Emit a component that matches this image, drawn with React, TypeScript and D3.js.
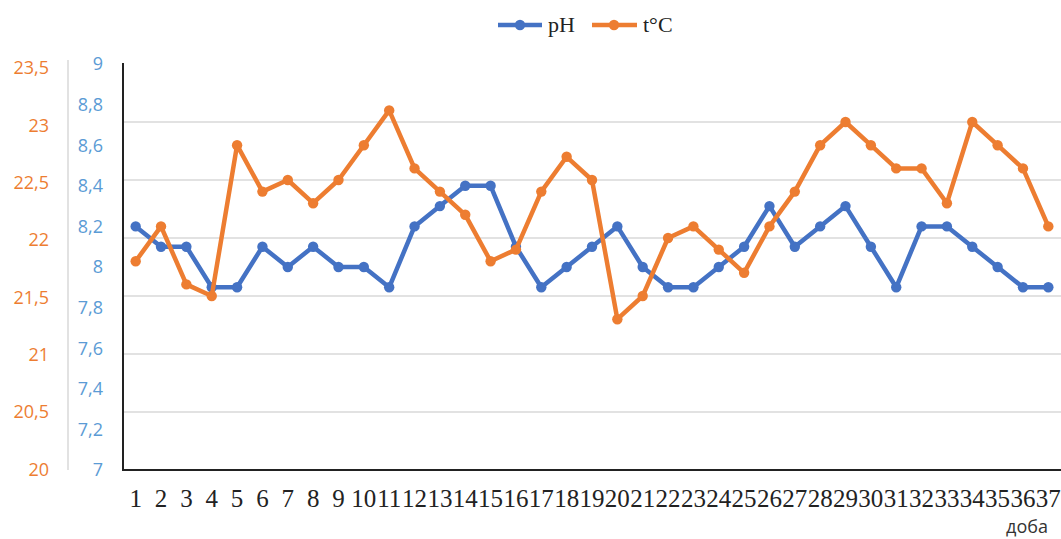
import React from "react";
import * as d3 from "d3";

const days: number[] = Array.from({ length: 37 }, (_, i) => i + 1);
const phValues: number[] = [
  8.2, 8.1, 8.1, 7.9, 7.9, 8.1, 8.0, 8.1, 8.0, 8.0, 7.9, 8.2, 8.3, 8.4, 8.4, 8.1, 7.9, 8.0, 8.1,
  8.2, 8.0, 7.9, 7.9, 8.0, 8.1, 8.3, 8.1, 8.2, 8.3, 8.1, 7.9, 8.2, 8.2, 8.1, 8.0, 7.9, 7.9,
];
const tempValues: number[] = [
  21.8, 22.1, 21.6, 21.5, 22.8, 22.4, 22.5, 22.3, 22.5, 22.8, 23.1, 22.6, 22.4, 22.2, 21.8, 21.9,
  22.4, 22.7, 22.5, 21.3, 21.5, 22.0, 22.1, 21.9, 21.7, 22.1, 22.4, 22.8, 23.0, 22.8, 22.6, 22.6,
  22.3, 23.0, 22.8, 22.6, 22.1,
];
const phTicks: number[] = [7, 7.2, 7.4, 7.6, 7.8, 8, 8.2, 8.4, 8.6, 8.8, 9];
const tempTicks: number[] = [20, 20.5, 21, 21.5, 22, 22.5, 23, 23.5];
const gridTicks: number[] = [20.5, 21, 21.5, 22, 22.5, 23];
const seriesNames = ["pH", "t°C"];
const xTitle = "доба";

const W = 1061;
const H = 539;
const left = 123;
const right = 1061;
const top = 64;
const bottom = 470;

const BLUE = "#4472C4";
const ORANGE = "#ED7D31";
const BLUE_LABEL = "#5B9BD5";

const fmt = (v: number) => String(v).replace(".", ",");

export default function App() {
  const x = d3
    .scaleBand<number>()
    .domain(days)
    .range([left, right])
    .padding(0);
  const cx = (d: number) => (x(d) as number) + x.bandwidth() / 2;
  const yPh = d3.scaleLinear().domain([7, 9]).range([bottom, top]);
  const yT = d3.scaleLinear().domain([20, 23.5]).range([bottom, top]);
  const yTLabel = d3.scaleLinear().domain([20, 23.5]).range([bottom - 0.5, top + 4]);

  const phLine = d3
    .line<number>()
    .x((_, i) => cx(days[i]))
    .y((v) => yPh(v));
  const tLine = d3
    .line<number>()
    .x((_, i) => cx(days[i]))
    .y((v) => yT(v));

  const axisFont = "'Open Sans', 'Liberation Sans', sans-serif";
  const serif = "'Liberation Serif', 'Times New Roman', serif";

  return (
    <svg
      width={W}
      height={H}
      style={{ position: "absolute", left: 0, top: 0, background: "#fff" }}
    >
      <rect x={0} y={0} width={W} height={H} fill="#fff" />
      {gridTicks.map((t) => (
        <line
          key={"g" + t}
          x1={left}
          x2={right}
          y1={yT(t)}
          y2={yT(t)}
          stroke="#d9d9d9"
          strokeWidth={1.5}
        />
      ))}
      <line x1={68} x2={68} y1={top - 4} y2={bottom} stroke="#d9d9d9" strokeWidth={1.5} />
      <line x1={left} x2={left} y1={top - 1} y2={bottom + 1} stroke="#222" strokeWidth={2} />
      <line x1={left - 1} x2={right} y1={bottom} y2={bottom} stroke="#222" strokeWidth={2} />

      {tempTicks.map((t) => (
        <text
          key={"t" + t}
          x={49}
          y={yTLabel(t)}
          dy="0.35em"
          textAnchor="end"
          fill={ORANGE}
          fontFamily={axisFont}
          fontSize={18}
        >
          {fmt(t)}
        </text>
      ))}
      {phTicks.map((t) => (
        <text
          key={"p" + t}
          x={103}
          y={yPh(t)}
          dy="0.35em"
          textAnchor="end"
          fill={BLUE_LABEL}
          fontFamily={axisFont}
          fontSize={18}
        >
          {fmt(t)}
        </text>
      ))}

      {days.map((d) => (
        <text
          key={"x" + d}
          x={cx(d)}
          y={507}
          textAnchor="middle"
          fill="#222"
          fontFamily={serif}
          fontSize={25}
        >
          {d}
        </text>
      ))}
      <text
        x={1048}
        y={533}
        textAnchor="end"
        fill="#333"
        fontFamily={axisFont}
        fontSize={18}
      >
        {xTitle}
      </text>

      <path d={phLine(phValues) || ""} fill="none" stroke={BLUE} strokeWidth={4.5} strokeLinejoin="round" />
      {phValues.map((v, i) => (
        <circle key={"pc" + i} cx={cx(days[i])} cy={yPh(v)} r={5.2} fill={BLUE} />
      ))}
      <path d={tLine(tempValues) || ""} fill="none" stroke={ORANGE} strokeWidth={4.5} strokeLinejoin="round" />
      {tempValues.map((v, i) => (
        <circle key={"tc" + i} cx={cx(days[i])} cy={yT(v)} r={5.2} fill={ORANGE} />
      ))}

      <line x1={498} x2={542} y1={25} y2={25} stroke={BLUE} strokeWidth={4.5} />
      <circle cx={520} cy={25} r={5.2} fill={BLUE} />
      <text x={548} y={32} fontFamily={serif} fontSize={22} fill="#222">
        {seriesNames[0]}
      </text>
      <line x1={592} x2={637} y1={25} y2={25} stroke={ORANGE} strokeWidth={4.5} />
      <circle cx={614} cy={25} r={5.2} fill={ORANGE} />
      <text x={643} y={32} fontFamily={serif} fontSize={22} fill="#222">
        {seriesNames[1]}
      </text>
    </svg>
  );
}
